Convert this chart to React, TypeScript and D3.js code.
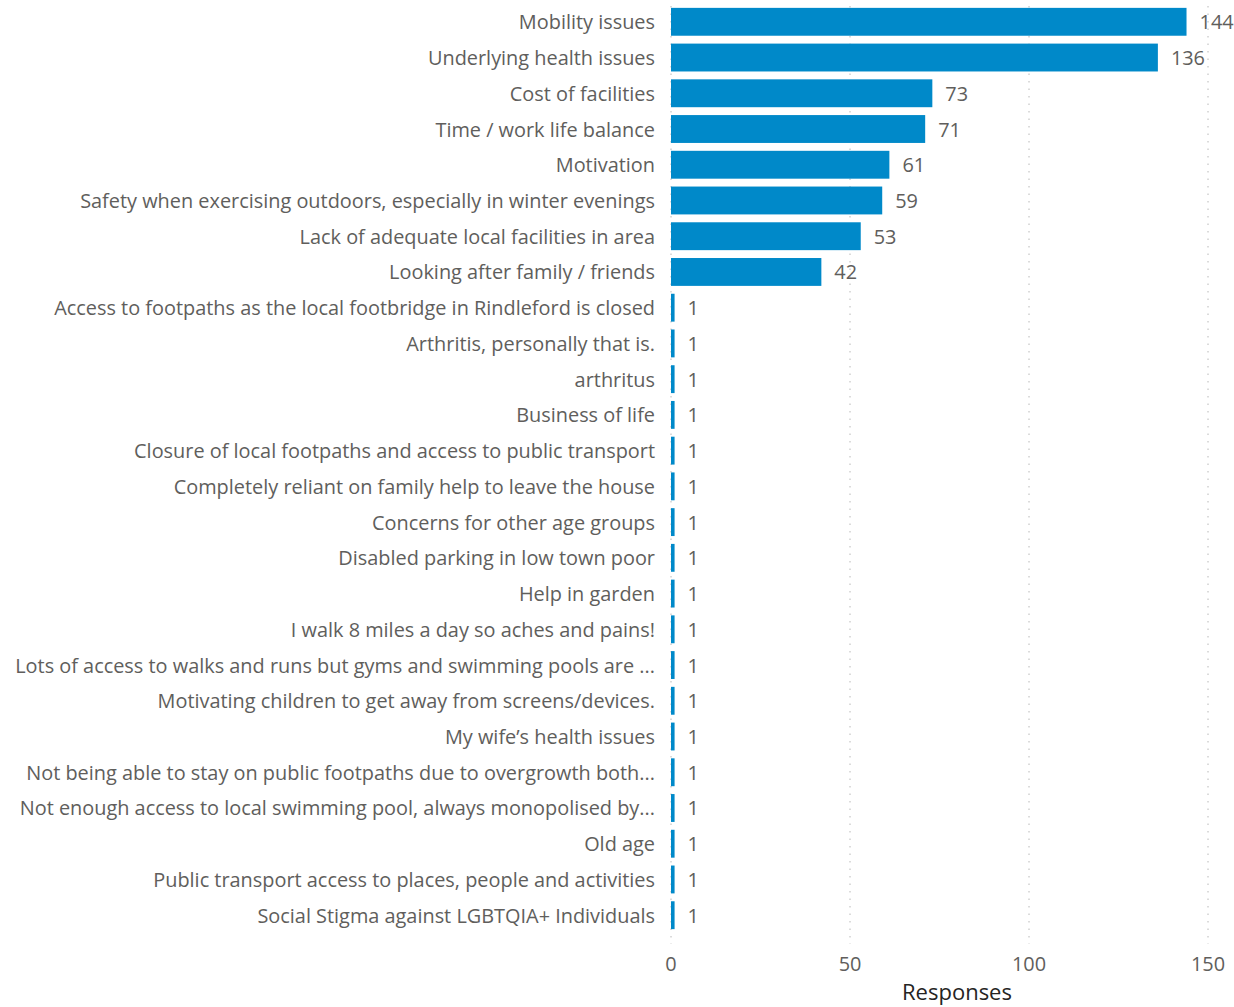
import React from "react";
import * as d3 from "d3";

const categories: string[] = [
  "Mobility issues",
  "Underlying health issues",
  "Cost of facilities",
  "Time / work life balance",
  "Motivation",
  "Safety when exercising outdoors, especially in winter evenings",
  "Lack of adequate local facilities in area",
  "Looking after family / friends",
  "Access to footpaths as the local footbridge in Rindleford is closed",
  "Arthritis, personally that is.",
  "arthritus",
  "Business of life",
  "Closure of local footpaths and access to public transport",
  "Completely reliant on family help to leave the house",
  "Concerns for other age groups",
  "Disabled parking in low town poor",
  "Help in garden",
  "I walk 8 miles a day so aches and pains!",
  "Lots of access to walks and runs but gyms and swimming pools are ...",
  "Motivating children to get away from screens/devices.",
  "My wife\u2019s health issues",
  "Not being able to stay on public footpaths due to overgrowth both...",
  "Not enough access to local swimming pool, always monopolised by...",
  "Old age",
  "Public transport access to places, people and activities",
  "Social Stigma against LGBTQIA+ Individuals",
];

const responses: number[] = [
  144, 136, 73, 71, 61, 59, 53, 42, 1, 1, 1, 1, 1, 1, 1, 1, 1, 1, 1, 1, 1, 1, 1, 1, 1, 1,
];

const xTicks: number[] = [0, 50, 100, 150];
const axisTitle = "Responses";

const W = 1234;
const H = 1007;
const FONT = "'Open Sans', 'Noto Sans', sans-serif";

export default function App() {
  const x = d3.scaleLinear().domain([0, 150]).range([671, 1208]);
  const y = d3
    .scaleBand<string>()
    .domain(categories)
    .range([0, 937])
    .paddingInner(0.22)
    .paddingOuter(0.22);
  const bw = y.bandwidth();

  return (
    <svg
      width={W}
      height={H}
      style={{ position: "absolute", left: 0, top: 0, background: "#fff" }}
      fontFamily={FONT}
    >
      {xTicks.map((t) => (
        <line
          key={"g" + t}
          x1={x(t)}
          x2={x(t)}
          y1={6}
          y2={944}
          stroke="#b8b8b8"
          strokeWidth={1}
          strokeDasharray="1.5,6"
        />
      ))}
      {categories.map((c, i) => (
        <g key={c}>
          <rect
            x={x(0)}
            y={y(c)!}
            width={x(responses[i]) - x(0)}
            height={bw}
            fill="#0089C9"
          />
          <text
            x={655}
            y={y(c)! + bw / 2}
            textAnchor="end"
            dominantBaseline="central"
            fontSize={19.9}
            fill="#605E5C"
          >
            {c}
          </text>
          <text
            x={x(responses[i]) + 13}
            y={y(c)! + bw / 2}
            textAnchor="start"
            dominantBaseline="central"
            fontSize={19.9}
            fill="#605E5C"
          >
            {responses[i]}
          </text>
        </g>
      ))}
      {xTicks.map((t) => (
        <text
          key={"t" + t}
          x={x(t)}
          y={963}
          textAnchor="middle"
          dominantBaseline="central"
          fontSize={19.9}
          fill="#605E5C"
        >
          {t}
        </text>
      ))}
      <text
        x={957}
        y={991}
        textAnchor="middle"
        dominantBaseline="central"
        fontSize={22}
        fontWeight={500}
        fill="#252423"
      >
        {axisTitle}
      </text>
    </svg>
  );
}
